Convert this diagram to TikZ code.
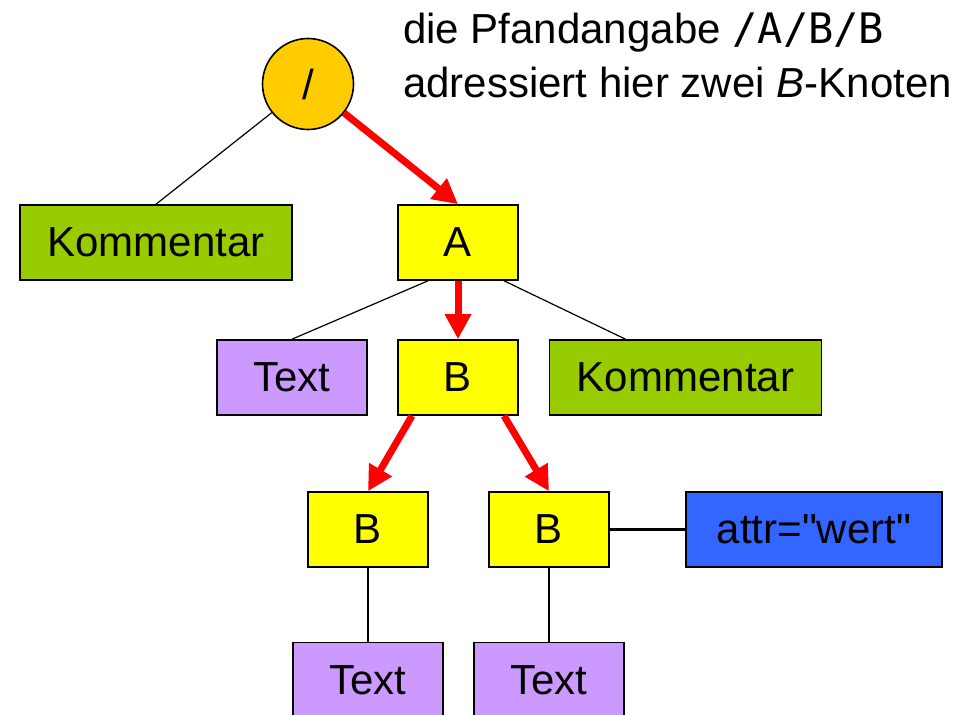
\documentclass[tikz,border=0pt]{standalone}
\usepackage{fontspec}
\setmainfont{Liberation Sans}
\newfontfamily\codefont{DejaVu Sans Mono}
\usepackage{tikz}
\usetikzlibrary{calc}
\usetikzlibrary{arrows.meta}
\definecolor{gelb}{HTML}{FFFF00}
\definecolor{gruen}{HTML}{99CC00}
\definecolor{lila}{HTML}{CC99FF}
\definecolor{blau}{HTML}{3366FF}
\definecolor{orange}{HTML}{FFCC00}
\definecolor{rot}{HTML}{FF0000}
\newcommand\bigfont{\fontsize{42}{50}\selectfont}

\begin{document}
\begin{tikzpicture}[x=1pt, y=-1pt,
		knoten/.style={draw=black, line width=1.6pt, inner sep=0, minimum height=75pt, font=\bigfont},
		elem/.style={knoten, fill=gelb, minimum width=120pt},
		komm/.style={knoten, fill=gruen, minimum width=272pt},
		txt/.style={knoten, fill=lila, minimum width=150pt},
		attr/.style={knoten, fill=blau, minimum width=256pt},
		kante/.style={black, line width=1.2pt},
		pfad/.style={rot, line width=7pt, -{Triangle[length=25pt,width=25pt]}}]
			\useasboundingbox (0,0) rectangle (978,715);
			% Baum
			\node[circle, draw=black, line width=1.6pt, fill=orange, minimum size=91pt, inner sep=0, font=\bigfont] (root) at (308,84) {/};
			\node[komm] (komm1) at (156,242.5) {Kommentar};
			\node[elem] (a) at (458,242.5) {A};
			\node[txt] (text1) at (292,377.5) {Text};
			\node[elem] (b) at (458,377.5) {B};
			\node[komm] (komm2) at (685.5,377.5) {Kommentar};
			\node[elem] (b1) at (368,529.5) {B};
			\node[elem] (b2) at (549,529.5) {B};
			\node[attr] (wert) at (814,529.5) {attr=\textquotedbl wert\textquotedbl};
			\node[txt] (text3) at (368,680) {Text};
			\node[txt] (text4) at (549,680) {Text};
			% Beschriftung
			\node[anchor=base west, inner sep=0, font=\bigfont] (zeile1) at (403,43) {die Pfandangabe {\codefont /A/B/B}};
			\node[anchor=base west, inner sep=0, font=\bigfont] (zeile2) at (403,97) {adressiert hier zwei \textit{B}-Knoten};
			% Kanten
			\draw[kante] (root) -- (komm1.north);
			\draw[kante] ($(a.south)+(-30pt,0)$) -- (text1.north);
			\draw[kante] ($(a.south)+(46pt,0)$) -- ($(komm2.north)+(-60pt,0)$);
			\draw[black, line width=2pt] (b1) -- (text3);
			\draw[black, line width=1.6pt] (b2) -- (text4);
			\draw[black, line width=2.5pt] (b2) -- (wert);
			% Pfad /A/B/B
			\draw[pfad] (root) -- (a.north);
			\draw[pfad] (a.south) -- (b.north);
			\draw[pfad] ($(b.south)+(-46pt,0)$) -- (b1.north);
			\draw[pfad] ($(b.south)+(46pt,0)$) -- (b2.north);
\end{tikzpicture}
\end{document}
